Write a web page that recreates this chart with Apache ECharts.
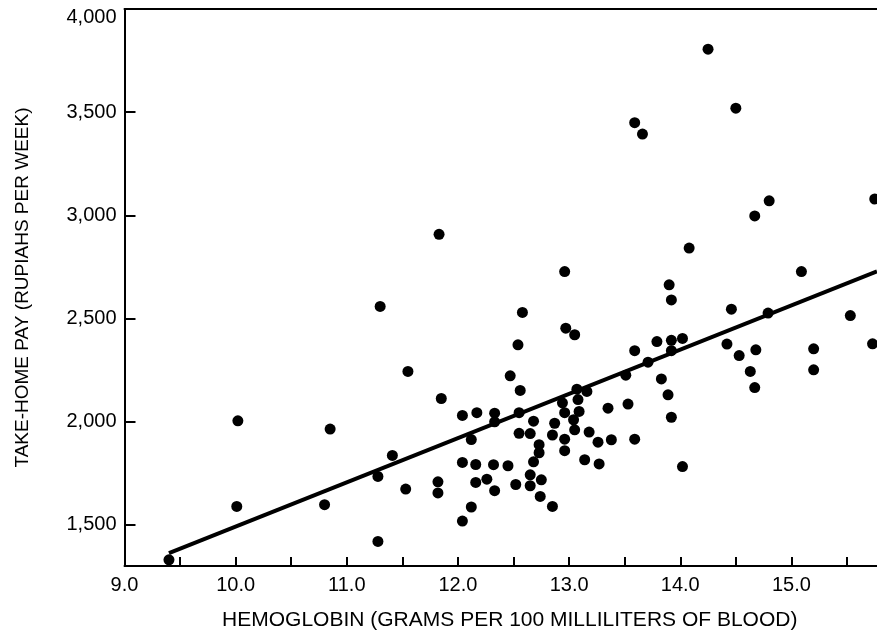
<!DOCTYPE html>
<html>
<head>
<meta charset="utf-8">
<script src="https://cdn.jsdelivr.net/npm/echarts@6/dist/echarts.min.js"></script>
<style>
html,body{margin:0;padding:0;background:#fff;}
#chart{width:877px;height:634px;}
</style>
</head>
<body>
<div id="chart"></div>
<script>
// Hemoglobin (g per 100 ml of blood)
const hemoglobin = [
  9.40,10.02,10.01,10.85,10.80,11.28,11.28,11.41,11.30,11.83,
  13.59,13.66,14.08,12.96,13.90,13.92,14.25,14.50,14.80,14.67,
  15.75,15.09,14.46,14.79,15.53,15.73,13.79,13.92,14.02,13.92,
  14.42,14.53,14.68,14.63,14.67,15.20,15.20,13.83,13.89,13.92,
  14.02,12.58,12.97,13.05,12.54,13.59,11.55,12.47,13.71,13.51,
  11.85,12.56,13.07,13.16,13.08,12.94,13.53,13.35,13.09,12.96,
  12.04,12.17,12.33,12.33,12.55,12.68,13.04,13.05,12.87,12.12,
  12.55,12.65,12.85,12.96,13.18,13.26,13.38,13.59,12.73,12.73,
  12.96,12.68,13.14,13.27,12.04,12.16,12.32,12.45,11.82,11.82,
  11.53,12.16,12.26,12.33,12.52,12.65,12.65,12.75,12.74,12.85,
  12.12,12.04
];
// Take-home pay (rupiahs per week)
const pay = [
  1330,2004,1589,1964,1597,1734,1419,1836,2558,2908,
  3449,3394,2841,2727,2663,2590,3805,3519,3070,2997,
  3079,2727,2545,2526,2514,2377,2388,2394,2403,2344,
  2376,2320,2348,2243,2165,2353,2251,2207,2130,2021,
  1782,2529,2453,2421,2372,2344,2243,2222,2288,2225,
  2112,2151,2157,2146,2107,2091,2085,2065,2049,2043,
  2030,2043,2041,1999,2043,2002,2009,1960,1992,1913,
  1943,1942,1935,1915,1949,1900,1912,1915,1888,1849,
  1859,1805,1815,1795,1802,1792,1791,1786,1708,1654,
  1673,1705,1721,1665,1695,1742,1689,1718,1637,1589,
  1586,1518
];
// Fitted regression line end points
const fitX = [9.4, 15.77];
const fitY = [1362, 2728];
// Axis ticks / labels
const xTicks = [9.0,9.5,10.0,10.5,11.0,11.5,12.0,12.5,13.0,13.5,14.0,14.5,15.0,15.5];
const xLabels = [9.0,10.0,11.0,12.0,13.0,14.0,15.0];
const yTicks = [1500,2000,2500,3000,3500,4000];

const FONT = "'Liberation Sans', Arial, Helvetica, sans-serif";
const points = hemoglobin.map((h, i) => [h, pay[i]]);
const fitLine = fitX.map((x, i) => [x, fitY[i]]);

const chart = echarts.init(document.getElementById('chart'), null, {renderer: 'canvas'});
chart.setOption({
  backgroundColor: '#fff',
  animation: false,
  grid: {left: 124.5, right: 0, top: 9, bottom: 68, containLabel: false, outerBoundsMode: 'none'},
  xAxis: [{
    type: 'value',
    min: 9, max: 15.77,
    name: 'HEMOGLOBIN (GRAMS PER 100 MILLILITERS OF BLOOD)',
    nameLocation: 'middle',
    nameGap: 44,
    nameTextStyle: {color: '#000', fontFamily: FONT, fontSize: 21, padding: [0, 0, 0, 18]},
    axisLine: {show: true, lineStyle: {color: '#000', width: 2}},
    axisTick: {show: true, inside: true, length: 9, customValues: xTicks, lineStyle: {color: '#000', width: 2}},
    axisLabel: {customValues: xLabels, color: '#000', fontFamily: FONT, fontSize: 20, margin: 9,
      formatter: v => v.toFixed(1)},
    splitLine: {show: false}
  }, {
    type: 'value', position: 'top',
    min: 9, max: 15.77,
    axisLine: {show: true, onZero: false, lineStyle: {color: '#000', width: 2}},
    axisTick: {show: false}, axisLabel: {show: false}, splitLine: {show: false}
  }],
  yAxis: {
    type: 'value',
    min: 1300, max: 4000,
    name: 'TAKE-HOME PAY (RUPIAHS PER WEEK)',
    nameLocation: 'middle',
    nameGap: 92,
    nameRotate: 90,
    nameTextStyle: {color: '#000', fontFamily: FONT, fontSize: 19},
    axisLine: {show: true, lineStyle: {color: '#000', width: 2}},
    axisTick: {show: true, inside: true, length: 11, customValues: yTicks, lineStyle: {color: '#000', width: 2}},
    axisLabel: {customValues: yTicks, color: '#000', fontFamily: FONT, fontSize: 20, margin: 8,
      formatter: v => v === 4000 ? '{top|' + v.toLocaleString('en-US') + '}' : v.toLocaleString('en-US'),
      rich: {top: {fontFamily: FONT, fontSize: 20, color: '#000', padding: [16, 0, 0, 0]}}},
    splitLine: {show: false}
  },
  series: [{
    type: 'scatter',
    data: points,
    symbol: 'circle',
    symbolSize: 11,
    itemStyle: {color: '#000', opacity: 1}
  }, {
    type: 'line',
    data: fitLine,
    symbol: 'none',
    lineStyle: {color: '#000', width: 4},
    z: 3
  }]
});
</script>
</body>
</html>
